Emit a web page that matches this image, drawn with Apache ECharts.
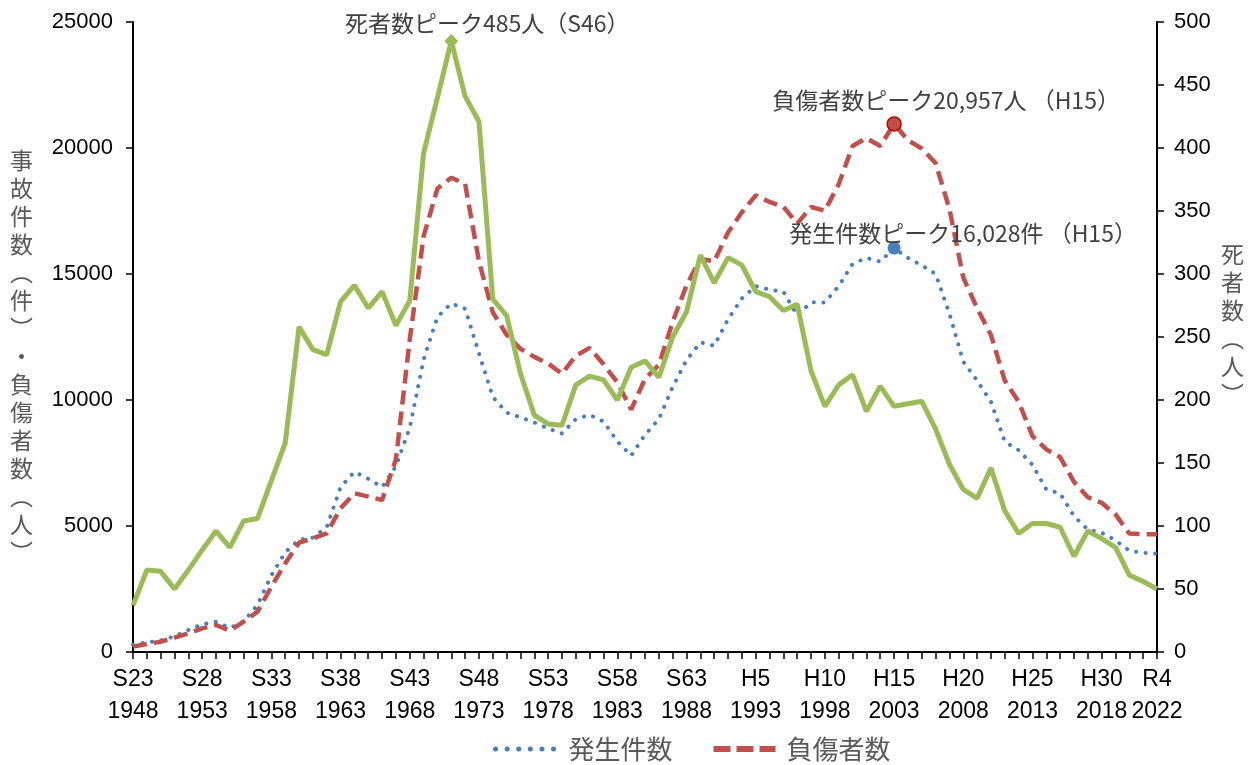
<!DOCTYPE html>
<html><head><meta charset="utf-8">
<script src="https://cdn.jsdelivr.net/npm/echarts@6/dist/echarts.min.js"></script>
<style>html,body{margin:0;padding:0;background:#fff}#c{width:1254px;height:765px}</style>
</head><body><div id="c"></div>
<script>
const years = [1948,1949,1950,1951,1952,1953,1954,1955,1956,1957,1958,1959,1960,1961,1962,1963,1964,1965,1966,1967,
1968,1969,1970,1971,1972,1973,1974,1975,1976,1977,1978,1979,1980,1981,1982,1983,1984,1985,1986,1987,
1988,1989,1990,1991,1992,1993,1994,1995,1996,1997,1998,1999,2000,2001,2002,2003,2004,2005,2006,2007,
2008,2009,2010,2011,2012,2013,2014,2015,2016,2017,2018,2019,2020,2021,2022];

const tickYears = [1948,1953,1958,1963,1968,1973,1978,1983,1988,1993,1998,2003,2008,2013,2018,2022];
const tickEras  = ['S23','S28','S33','S38','S43','S48','S53','S58','S63','H5','H10','H15','H20','H25','H30','R4'];

// 発生件数 (件)
const accidents = [290,380,456,623,873,1100,1200,960,1206,1873,3040,3956,4456,4540,4956,6540,7150,6873,6540,7373,
8900,11600,13300,13830,13620,11850,10120,9500,9310,9110,8870,8670,9240,9410,9150,8360,7790,8620,9240,10520,
11580,12290,12150,13200,14030,14520,14380,14300,13350,13880,13870,14520,15400,15640,15490,16028,15640,15340,15000,13420,
11520,10770,9930,8340,8010,7430,6450,6290,5390,4860,4730,4430,4020,3940,3900];

// 負傷者数 (人)
const injuries = [212,317,410,569,741,939,1071,847,1204,1600,2593,3518,4339,4511,4709,5701,6300,6164,6032,7650,
12400,16500,18390,18820,18580,15500,13480,12590,12030,11710,11450,11040,11760,12070,11420,10700,9620,10840,11390,13100,
14550,15600,15500,16650,17450,18120,17860,17670,17000,17660,17510,18570,20080,20390,20080,20957,20310,19980,19400,17580,
14860,13640,12580,10770,9930,8570,8040,7730,6750,6140,5920,5460,4700,4680,4670];

// 死者数 (人)
const deaths = [37,65,64,50,65,81,96,83,104,106,136,166,258,240,236,278,291,273,286,259,
279,396,440,485,441,421,280,267,221,188,181,180,212,219,216,200,226,231,218,250,
270,315,293,313,307,286,282,271,276,223,195,212,220,191,211,195,197,199,177,149,
129,122,146,112,94,102,102,99,76,96,90,83,61,56,50];

const leftTicks = {min:0, max:25000, interval:5000};
const rightTicks = {min:0, max:500, interval:50};

const peakLabels = {
  deaths: '死者数ピーク485人（S46）',
  injuries: '負傷者数ピーク20,957人 （H15）',
  accidents: '発生件数ピーク16,028件 （H15）'
};

function argmax(a){let m=0;for(let i=1;i<a.length;i++) if(a[i]>a[m]) m=i;return m;}

const CJK = '"Noto Sans CJK JP", "Noto Sans", sans-serif';
const NUM = '"Liberation Sans", Arial, sans-serif';
const labelColor = '#404040';

const chart = echarts.init(document.getElementById('c'), null, {renderer:'canvas'});

const iA = argmax(accidents), iI = argmax(injuries), iD = argmax(deaths);

const option = {
  animation: false,
  backgroundColor: '#ffffff',
  grid: {left: 133, right: 97, top: 22, bottom: 113, containLabel: false},
  legend: {
    data: [
      {name: '発生件数', lineStyle: {width: 5, type: [0.1, 11.5], cap: 'round', color: '#4a7ebb'}},
      {name: '負傷者数', lineStyle: {width: 6, type: [17, 6], color: '#c0504d'}}
    ],
    top: 731, left: 488,
    itemWidth: 62, itemHeight: 14, itemGap: 38,
    itemStyle: {opacity: 0},
    textStyle: {fontSize: 26, color: '#595959', fontFamily: CJK, padding: [0, 0, 0, 6]}
  },
  xAxis: {
    type: 'category', data: years.map(String), boundaryGap: false,
    axisLine: {show: true, lineStyle: {color: '#000', width: 2}},
    axisTick: {show: true, interval: 0, length: 7, lineStyle: {color: '#000', width: 1.5}},
    axisLabel: {
      interval: (idx, val) => tickYears.indexOf(+val) >= 0,
      formatter: (val) => tickEras[tickYears.indexOf(+val)] + '\n' + val,
      color: '#000', fontSize: 23, lineHeight: 32, margin: 12,
      fontFamily: NUM
    },
    splitLine: {show: false}
  },
  yAxis: [
    {
      type: 'value', min: leftTicks.min, max: leftTicks.max, interval: leftTicks.interval,
      axisLine: {show: true, lineStyle: {color: '#000', width: 2}},
      axisTick: {show: true, length: 7, lineStyle: {color: '#000', width: 1.5}},
      axisLabel: {color: '#000', fontSize: 22, margin: 20, fontFamily: NUM, formatter: v => String(v)},
      splitLine: {show: false}
    },
    {
      type: 'value', min: rightTicks.min, max: rightTicks.max, interval: rightTicks.interval,
      position: 'right',
      axisLine: {show: true, lineStyle: {color: '#000', width: 2}},
      axisTick: {show: true, length: 7, lineStyle: {color: '#000', width: 1.5}},
      axisLabel: {color: '#000', fontSize: 22, margin: 17, fontFamily: NUM, formatter: v => String(v)},
      splitLine: {show: false}
    }
  ],
  series: [
    {
      name: '発生件数', type: 'line', data: accidents, yAxisIndex: 0,
      symbol: 'none', smooth: false, z: 2,
      color: '#4a7ebb',
      lineStyle: {color: '#4a7ebb', width: 4, type: [0.1, 9.5], cap: 'round'},
      markPoint: {
        symbol: 'circle', symbolSize: 13, silent: true,
        itemStyle: {color: '#4a7ebb'},
        data: [{coord: [iA, accidents[iA]]}],
        label: {show: true, position: 'top', offset: [69, 8], formatter: peakLabels.accidents,
          color: labelColor, fontSize: 23, fontFamily: CJK}
      }
    },
    {
      name: '負傷者数', type: 'line', data: injuries, yAxisIndex: 0,
      symbol: 'none', z: 3,
      color: '#c0504d',
      lineStyle: {color: '#c0504d', width: 4.5, type: [14, 7]},
      markPoint: {
        symbol: 'circle', symbolSize: 14, silent: true,
        itemStyle: {color: '#c0504d', borderColor: '#c00000', borderWidth: 1.5},
        data: [{coord: [iI, injuries[iI]]}],
        label: {show: true, position: 'top', offset: [52, 1], formatter: peakLabels.injuries,
          color: labelColor, fontSize: 23, fontFamily: CJK}
      }
    },
    {
      name: '死者数', type: 'line', data: deaths, yAxisIndex: 1,
      symbol: 'none', z: 4,
      color: '#9bbb59',
      lineStyle: {color: '#9bbb59', width: 5},
      markPoint: {
        symbol: 'diamond', symbolSize: 14, silent: true,
        itemStyle: {color: '#9bbb59'},
        data: [{coord: [iD, deaths[iD]]}],
        label: {show: true, position: 'top', offset: [36, 6], formatter: peakLabels.deaths,
          color: labelColor, fontSize: 23, fontFamily: CJK}
      }
    }
  ],
  graphic: [
    {
      type: 'text', left: 10, top: 146,
      style: {text: ['事','故','件','数','︵','件','︶','・','負','傷','者','数','︵','人','︶'].join('\n'),
        fill: '#595959', fontSize: 23, lineHeight: 28, fontFamily: CJK, textAlign: 'left'}
    },
    {
      type: 'text', left: 1221, top: 240,
      style: {text: ['死','者','数','︵','人','︶'].join('\n'),
        fill: '#595959', fontSize: 23, lineHeight: 28, fontFamily: CJK, textAlign: 'left'}
    }
  ]
};
chart.setOption(option);
</script></body></html>
